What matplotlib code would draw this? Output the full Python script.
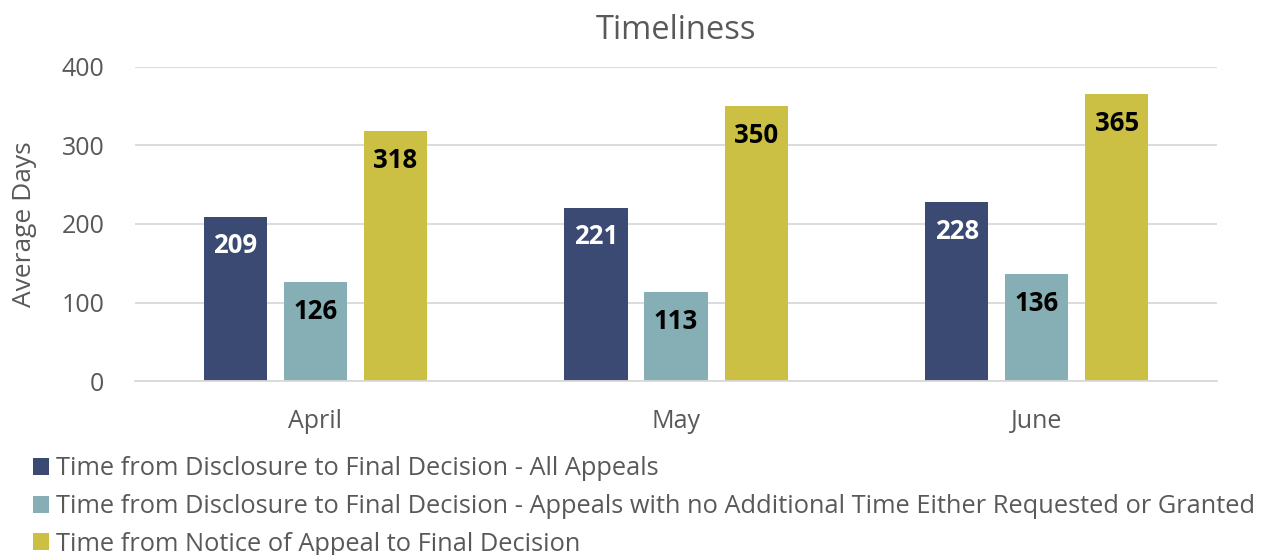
import numpy as np
import matplotlib.pyplot as plt

plt.rcParams['font.family'] = ['Open Sans', 'DejaVu Sans']

# data
months = ['April', 'May', 'June']
all_appeals = [209, 221, 228]
no_extra_time = [126, 113, 136]
notice_to_final = [318, 350, 365]
series_names = [
    'Time from Disclosure to Final Decision - All Appeals',
    'Time from Disclosure to Final Decision - Appeals with no Additional Time Either Requested or Granted',
    'Time from Notice of Appeal to Final Decision',
]
colors = ['#3B4A73', '#85AEB5', '#CBC043']
label_colors = ['white', 'black', 'black']
grey = '#595959'

fig = plt.figure(figsize=(12.68, 5.55), dpi=100)
ax = fig.add_axes([0.1065, 0.3135, 0.8533, 0.5658])

x = np.arange(len(months))
width = 0.175
step = 0.222
for i, (vals, c, lc, name) in enumerate(zip([all_appeals, no_extra_time, notice_to_final],
                                         colors, label_colors, series_names)):
    bars = ax.bar(x + (i - 1) * step, vals, width, color=c, label=name, zorder=2)
    for b, v in zip(bars, vals):
        ax.text(b.get_x() + b.get_width() / 2, v - 37, str(v), ha='center', va='center',
                color=lc, fontsize=18.5, fontweight='bold', zorder=3)

ax.set_xlim(-0.5, 2.5)
ax.set_ylim(0, 400)
ax.set_yticks([0, 100, 200, 300, 400])
ax.set_xticks(x)
ax.set_xticklabels(months)
ax.yaxis.grid(True, color='#D9D9D9', linewidth=1.3, zorder=0)
ax.set_axisbelow(True)
for s in ['top', 'right', 'left']:
    ax.spines[s].set_visible(False)
ax.spines['bottom'].set_color('#D9D9D9')
ax.spines['bottom'].set_linewidth(1.3)
ax.tick_params(axis='both', length=0, labelsize=18, colors=grey)
ax.tick_params(axis='y', pad=22)
ax.tick_params(axis='x', pad=20)
ax.set_ylabel('Average Days', fontsize=19, color=grey, labelpad=18)
ax.set_title('Timeliness', fontsize=23.5, color=grey, pad=20)

fig.legend(loc='lower left', bbox_to_anchor=(0.026, -0.003), frameon=False, ncol=1,
           fontsize=18.3, labelcolor=grey, handlelength=0.65, handleheight=0.65,
           handletextpad=0.25, labelspacing=0.5, borderaxespad=0, borderpad=0)

fig.savefig('out.png', dpi=100)
